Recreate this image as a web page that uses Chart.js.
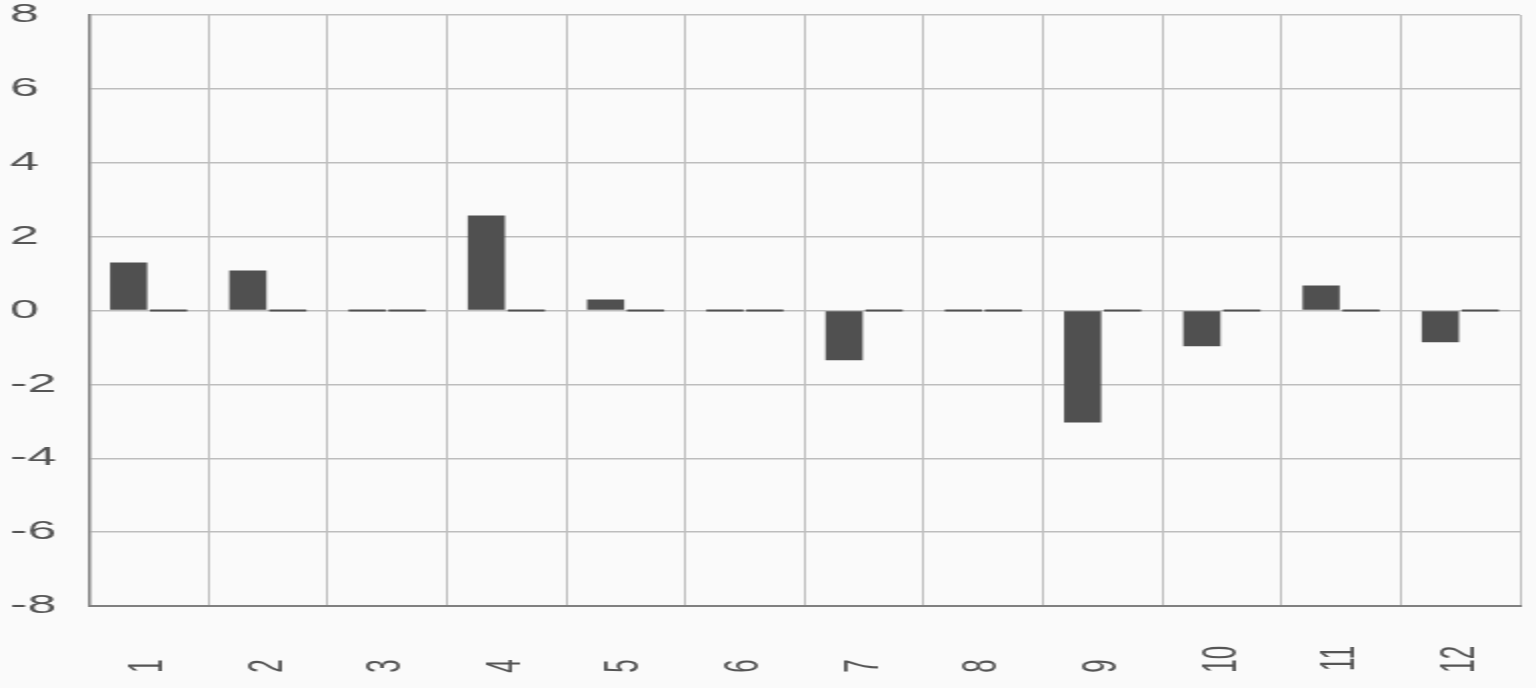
<!DOCTYPE html>
<html>
<head>
<meta charset="utf-8">
<script src="https://cdn.jsdelivr.net/npm/chart.js@4"></script>
<style>
  html, body { margin: 0; padding: 0; background: #fafafa; }
  #wrap { width: 1536px; height: 688px; }
</style>
</head>
<body>
<div id="wrap">
  <!-- drawn at half width and stretched 2x, like the reference -->
  <canvas id="barChart" width="768" height="688" style="width:1536px;height:688px;display:block"></canvas>
</div>
<script>
// categories and series
const categories = ["1", "2", "3", "4", "5", "6", "7", "8", "9", "10", "11", "12"];
const seriesA = [1.3, 1.08, 0, 2.57, 0.3, 0, -1.35, 0, -3.03, -0.97, 0.68, -0.86];
const seriesB = [0, 0, 0, 0, 0, 0, 0, 0, 0, 0, 0, 0];
const yTicks = [-8, -6, -4, -2, 0, 2, 4, 6, 8];

const barColor = "#505050";
const gridColor = "#bdbdbd";
const axisColor = "#808080";

let ctx = document.getElementById("barChart").getContext("2d");
let myChart = new Chart(ctx, {
  type: "bar",
  data: {
    labels: categories,
    datasets: [{
      label: "A",
      data: seriesA,
      backgroundColor: barColor,
      minBarLength: 2,
      categoryPercentage: 0.67,
      barPercentage: 0.93,
    }, {
      label: "B",
      data: seriesB,
      backgroundColor: barColor,
      minBarLength: 2,
      categoryPercentage: 0.67,
      barPercentage: 0.93,
    }],
  },
  options: {
    responsive: false,
    animation: false,
    layout: { padding: { left: 5, right: 8, top: 0, bottom: 0 } },
    plugins: {
      legend: { display: false },
      tooltip: { enabled: false },
    },
    scales: {
      x: {
        grid: { color: gridColor, lineWidth: 1, drawTicks: false, offset: true },
        border: { color: axisColor, width: 2 },
        ticks: {
          color: "#555",
          font: { family: "Liberation Sans", size: 24 },
          minRotation: 90,
          maxRotation: 90,
          padding: 40,
          autoSkip: false,
          // pad single digits so every label starts at the same spot
          callback: function (value) {
            let text = this.getLabelForValue(value);
            return text.length === 1 ? text + "  " : text;
          },
        },
        afterFit: (axis) => {
          axis.height = 82;
          axis.paddingLeft = 0;
          axis.paddingRight = 0;
        },
      },
      y: {
        min: -8,
        max: 8,
        afterBuildTicks: (axis) => { axis.ticks = yTicks.map((v) => ({ value: v })); },
        grid: { color: gridColor, lineWidth: 1.5, drawTicks: false },
        border: { color: axisColor, width: 1.5 },
        ticks: {
          color: "#555",
          font: { family: "Liberation Sans", size: 26 },
          crossAlign: "far",
          padding: 2,
        },
        afterFit: (axis) => {
          axis.width = 39.5;
          axis.paddingTop = 15;
          axis.paddingBottom = 0;
        },
      },
    },
  },
});
</script>
</body>
</html>
